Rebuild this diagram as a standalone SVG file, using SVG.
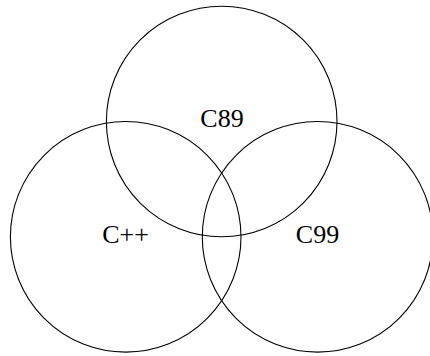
<svg xmlns="http://www.w3.org/2000/svg" width="430" height="356" viewBox="0 0 430 356">
<style>
.c{fill:none;stroke:#000;stroke-width:1.1}
.t{font-family:"Liberation Serif","Times New Roman",serif;font-size:26px;text-anchor:middle;fill:#000}
</style>
<rect width="430" height="356" fill="#fff"/>
<g id="c89"><circle class="c" cx="221.7" cy="121.5" r="115.3"/><text class="t" x="222" y="127">C89</text></g>
<g id="cpp"><circle class="c" cx="125.7" cy="236.8" r="115.3"/><text class="t" x="125.5" y="243">C++</text></g>
<g id="c99"><circle class="c" cx="317.6" cy="236.8" r="115.3"/><text class="t" x="317.5" y="243">C99</text></g>
<g id="connectors"/>
</svg>
